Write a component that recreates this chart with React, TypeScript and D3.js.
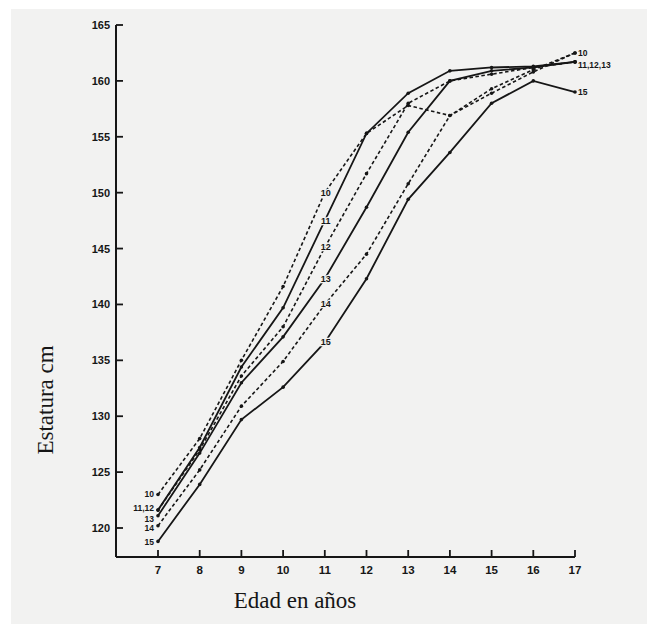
import { useEffect, useRef } from 'react';
import * as d3 from 'd3';

// edades (años)
const ages = [7, 8, 9, 10, 11, 12, 13, 14, 15, 16, 17];
const yTicks = [120, 125, 130, 135, 140, 145, 150, 155, 160, 165];

// estatura media (cm) por grupo
const s10 = [123.0, 128.0, 135.0, 141.6, 150.0, 155.3, 157.8, 156.9, 159.3, 161.0, 162.5];
const s11 = [121.6, 127.2, 134.4, 139.7, 147.5, 155.3, 158.9, 160.9, 161.2, 161.3, 161.7];
const s12 = [121.6, 127.0, 133.6, 138.0, 145.1, 151.7, 158.0, 160.0, 160.6, 161.2, 161.7];
const s13 = [121.1, 126.7, 133.0, 137.1, 142.3, 148.7, 155.4, 160.0, 160.9, 161.2, 161.7];
const s14 = [120.2, 125.2, 130.9, 134.9, 140.0, 144.5, 150.8, 156.9, 158.9, 160.8, 162.5];
const s15 = [118.8, 123.9, 129.7, 132.6, 136.6, 142.3, 149.4, 153.6, 158.0, 160.0, 159.0];

const seriesNames = ['10', '11', '12', '13', '14', '15'];
const seriesValues = [s10, s11, s12, s13, s14, s15];
const dashedSeries = ['10', '12', '14'];

// etiquetas a los 7 años y al final
const startLabels = [
  { text: '10', series: '10', dy: 0 },
  { text: '11,12', series: '11', dy: -2 },
  { text: '13', series: '13', dy: 3 },
  { text: '14', series: '14', dy: 2 },
  { text: '15', series: '15', dy: 1 },
];
const endLabels = [
  { text: '10', series: '10', dy: 0 },
  { text: '11,12,13', series: '11', dy: 3 },
  { text: '15', series: '15', dy: 0 },
];

const BG = '#f2f2f1';
const INK = '#161616';

export default function App() {
  const svgRef = useRef<SVGSVGElement>(null);

  useEffect(() => {
    const svg = d3.select(svgRef.current);
    svg.selectAll('*').remove();

    const x = d3.scaleLinear().domain([7, 17]).range([158, 575]);
    const y = d3.scaleLinear().domain([120, 165]).range([528, 25]);
    const axisX = 116;
    const axisY = 557;

    svg.append('rect').attr('width', 647).attr('height', 624).attr('fill', '#fff');
    svg.append('rect')
      .attr('x', 11).attr('y', 9).attr('width', 636).attr('height', 615)
      .attr('fill', BG);

    const g = svg.append('g');

    // ejes
    g.append('line')
      .attr('x1', axisX).attr('x2', axisX)
      .attr('y1', y(165)).attr('y2', axisY)
      .attr('stroke', INK).attr('stroke-width', 2);
    g.append('line')
      .attr('x1', axisX).attr('x2', x(17))
      .attr('y1', axisY).attr('y2', axisY)
      .attr('stroke', INK).attr('stroke-width', 2);

    yTicks.forEach(t => {
      g.append('line')
        .attr('x1', axisX).attr('x2', axisX + 7)
        .attr('y1', y(t)).attr('y2', y(t))
        .attr('stroke', INK).attr('stroke-width', 1.8);
      g.append('text')
        .attr('x', axisX - 6).attr('y', y(t) + 4)
        .attr('text-anchor', 'end')
        .attr('fill', INK)
        .style('font-family', '"Liberation Sans", Arial, sans-serif')
        .style('font-size', '11px')
        .style('font-weight', 'bold')
        .text(t);
    });

    ages.forEach(a => {
      g.append('line')
        .attr('x1', x(a)).attr('x2', x(a))
        .attr('y1', axisY).attr('y2', axisY - 7)
        .attr('stroke', INK).attr('stroke-width', 1.8);
      g.append('text')
        .attr('x', x(a)).attr('y', axisY + 17)
        .attr('text-anchor', 'middle')
        .attr('fill', INK)
        .style('font-family', '"Liberation Sans", Arial, sans-serif')
        .style('font-size', '11.5px')
        .style('font-weight', 'bold')
        .text(a);
    });

    // títulos
    g.append('text')
      .attr('x', 295).attr('y', 608)
      .attr('text-anchor', 'middle')
      .attr('fill', INK)
      .style('font-family', '"Liberation Serif", "Times New Roman", serif')
      .style('font-size', '23px')
      .text('Edad en años');
    g.append('text')
      .attr('transform', 'translate(53,400) rotate(-90)')
      .attr('text-anchor', 'middle')
      .attr('fill', INK)
      .style('font-family', '"Liberation Serif", "Times New Roman", serif')
      .style('font-size', '23px')
      .text('Estatura cm');

    // curvas
    const line = d3.line<number>()
      .x((_, i) => x(ages[i]))
      .y(d => y(d));

    seriesNames.forEach((name, si) => {
      const vals = seriesValues[si];
      const dashed = dashedSeries.includes(name);
      g.append('path')
        .datum(vals)
        .attr('fill', 'none')
        .attr('stroke', INK)
        .attr('stroke-width', dashed ? 1.6 : 1.8)
        .attr('stroke-dasharray', dashed ? '3.5,2.5' : null)
        .attr('d', line);
      g.selectAll(null)
        .data(vals)
        .enter()
        .append('circle')
        .attr('cx', (_, i) => x(ages[i]))
        .attr('cy', d => y(d))
        .attr('r', 1.8)
        .attr('fill', INK);
    });

    const labelStyle = (sel: any, size: number) => sel
      .attr('fill', INK)
      .style('font-family', '"Liberation Sans", Arial, sans-serif')
      .style('font-size', `${size}px`)
      .style('font-weight', 'bold');

    // etiquetas en la edad de 11 años
    seriesNames.forEach((name, si) => {
      const v = seriesValues[si][4];
      labelStyle(g.append('text'), 9)
        .attr('x', x(11) + 1).attr('y', y(v) + 3)
        .attr('text-anchor', 'middle')
        .attr('stroke', BG).attr('stroke-width', 2.5)
        .attr('paint-order', 'stroke')
        .text(name);
    });

    startLabels.forEach(l => {
      const v = seriesValues[seriesNames.indexOf(l.series)][0];
      labelStyle(g.append('text'), 8.5)
        .attr('x', x(7) - 4).attr('y', y(v) + 3 + l.dy)
        .attr('text-anchor', 'end')
        .text(l.text);
    });

    endLabels.forEach(l => {
      const v = seriesValues[seriesNames.indexOf(l.series)][10];
      labelStyle(g.append('text'), 8.5)
        .attr('x', x(17) + 3).attr('y', y(v) + 3 + l.dy)
        .attr('text-anchor', 'start')
        .text(l.text);
    });
  }, []);

  return (
    <svg
      ref={svgRef}
      width={647}
      height={624}
      style={{ position: 'absolute', left: 0, top: 0 }}
    />
  );
}
